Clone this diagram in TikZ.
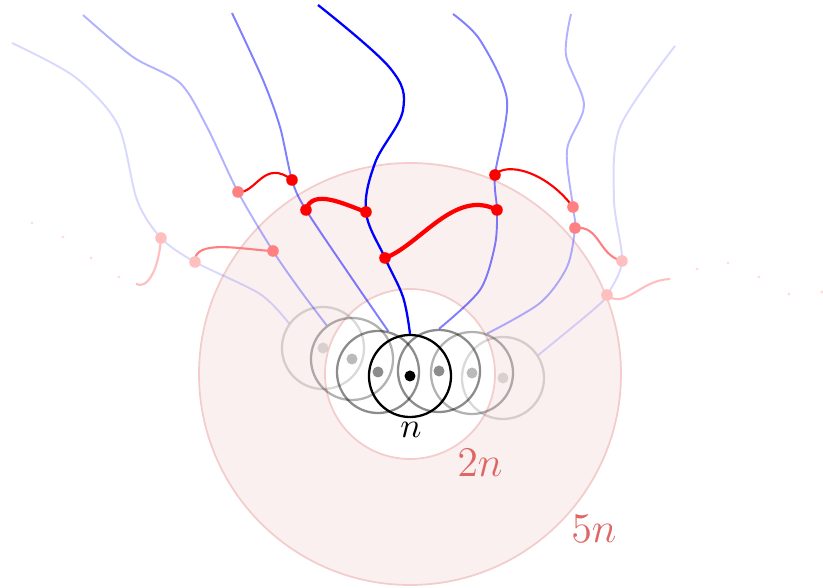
\documentclass[tikz,border=0pt]{standalone}
\usepackage{xcolor}
\usepackage{tikz}
\usetikzlibrary{positioning}

\definecolor{ringfill}{RGB}{251,240,240}
\definecolor{ringline}{RGB}{243,204,204}
\definecolor{ringtext}{RGB}{224,102,102}
\definecolor{crumbcol}{RGB}{255,221,221}

\begin{document}
\begin{tikzpicture}[
  x = 0.01cm, y = 0.01cm, yscale = -1,
  every node/.style = {font=\normalsize},
  ring/.style      = {draw=ringline, line width=0.5pt},
  ringlabel/.style = {text=ringtext, font=\large},
  walker/.style    = {circle, draw=black, line width=0.65pt, inner sep=0pt,
                      minimum size=0.82cm},
  near/.style      = {walker, draw opacity=0.45},
  mid/.style       = {walker, draw opacity=0.3},
  far/.style       = {walker, draw opacity=0.15},
  trail/.style     = {blue, line width=0.65pt},
  trailB/.style    = {blue, draw opacity=0.5, line width=0.55pt},
  trailC/.style    = {blue, draw opacity=0.3, line width=0.55pt},
  trailD/.style    = {blue, draw opacity=0.15, line width=0.55pt},
  bond/.style      = {red, line width=1.2pt},
  link/.style      = {red, line width=0.6pt},
  linkB/.style     = {red!50, line width=0.6pt},
  linkC/.style     = {red!25, line width=0.6pt},
  crumb/.style     = {fill=crumbcol}
]
\useasboundingbox (0,0) rectangle (823,588);

% --- discs 5n and 2n ---
\filldraw[ring, fill=ringfill] (410,374) circle (211);
\filldraw[ring, fill=white]    (410,374) circle (85);

% --- walkers ---
\node[walker] (c0) at (410,376) {};
\node[near]   (c1) at (378,372) {};
\node[near]   (c2) at (439,371) {};
\node[mid]    (c3) at (352,359) {};
\node[mid]    (c4) at (472,373) {};
\node[far]    (c5) at (323,348) {};
\node[far]    (c6) at (503,378) {};

\fill[black]                (c0.center) circle (5.5);
\fill[black, opacity=0.45]  (c1.center) circle (5.5) (c2.center) circle (5.5);
\fill[black, opacity=0.27]  (c3.center) circle (5.5) (c4.center) circle (5.5);
\fill[black, opacity=0.13]  (c5.center) circle (5.5) (c6.center) circle (5.5);

% --- sites on the trails ---
\coordinate (r0a) at (366,212);  \coordinate (r0b) at (385,258);
\coordinate (r1a) at (292,180);  \coordinate (r1b) at (306,210);
\coordinate (r2a) at (495,175);  \coordinate (r2b) at (497,210);
\coordinate (r3a) at (238,192);  \coordinate (r3b) at (273,251);
\coordinate (r4a) at (573,207);  \coordinate (r4b) at (575,228);
\coordinate (r5a) at (161,238);  \coordinate (r5b) at (195,262);
\coordinate (r6a) at (622,261);  \coordinate (r6b) at (607,295);
\coordinate (e5)  at (136,284);  \coordinate (e6)  at (670,279);

% --- trails ---
\draw[trail]  plot[smooth, tension=0.6] coordinates {(c0.north) (403,297)
  (r0b) (r0a) (375,163) (403,110) (390,68) (318,5)};
\draw[trailB] plot[smooth] coordinates {(c1.76) (353,280) (r1b) (r1a)
  (280,127) (263,80) (232,13)};
\draw[trailB] plot[smooth] coordinates {(c2.north) (480,290) (495,245) (r2b)
  (r2a) (507,100) (480,40) (453,14)};
\draw[trailC] plot[smooth] coordinates {(c3.127) (300,290) (r3b) (r3a)
  (207,127) (180,83) (133,57) (83,15)};
\draw[trailC] plot[smooth] coordinates {(c4.69) (540,303) (567,267) (r4b)
  (r4a) (567,150) (584,105) (566,55) (571,14)};
\draw[trailD] plot[smooth] coordinates {(c5.144) (260,294) (r5b) (r5a)
  (137,200) (118,125) (75,77) (12,43)};
\draw[trailD] plot[smooth] coordinates {(c6.33) (593,310) (r6b) (r6a)
  (614,200) (620,127) (675,46)};

% --- bonds between trails ---
\draw[bond]  (r1b) .. controls +(6,-22) and +(-22,-8) .. (r0a);
\draw[bond]  (r0b) .. controls +(35,-13) and +(-42,-22) .. (r2b);
\draw[link]  (r3a) .. controls +(18,2) and +(-28,-22) .. (r1a);
\draw[link]  (r2a) .. controls +(10,-13) and +(-28,-37) .. (r4a);
\draw[linkB] (r3b) .. controls +(-28,-1) and +(-2,-24) .. (r5b);
\draw[linkB] (r4b) .. controls +(25,-3) and +(-24,-6) .. (r6a);
\draw[linkC] (r5a) .. controls +(-2,30) and +(12,6) .. (e5);
\draw[linkC] (r6b) .. controls +(18,15) and +(-30,1) .. (e6);

\fill[red]    (r0a) circle (5.8) (r0b) circle (5.8) (r1a) circle (5.8)
              (r1b) circle (5.8) (r2a) circle (5.8) (r2b) circle (5.8);
\fill[red!50] (r3a) circle (5.8) (r3b) circle (5.8) (r4a) circle (5.8)
              (r4b) circle (5.8);
\fill[red!25] (r5a) circle (5.8) (r5b) circle (5.8) (r6a) circle (5.8)
              (r6b) circle (5.8);

% --- and so on ---
\fill[crumb] (32,223) circle (1.6) (63,237) circle (1.6) (91,258) circle (1.6)
             (119,277) circle (1.6);
\fill[crumb] (697,269) circle (1.6) (728,263) circle (1.6) (759,277) circle (1.6)
             (789,294) circle (1.6) (822,292) circle (1.6);

% --- labels ---
\node            (lbln)  at (411,430) {$n$};
\node[ringlabel] (lbl2n) at (480,463) {$2n$};
\node[ringlabel] (lbl5n) at (594,529) {$5n$};

\end{tikzpicture}
\end{document}
